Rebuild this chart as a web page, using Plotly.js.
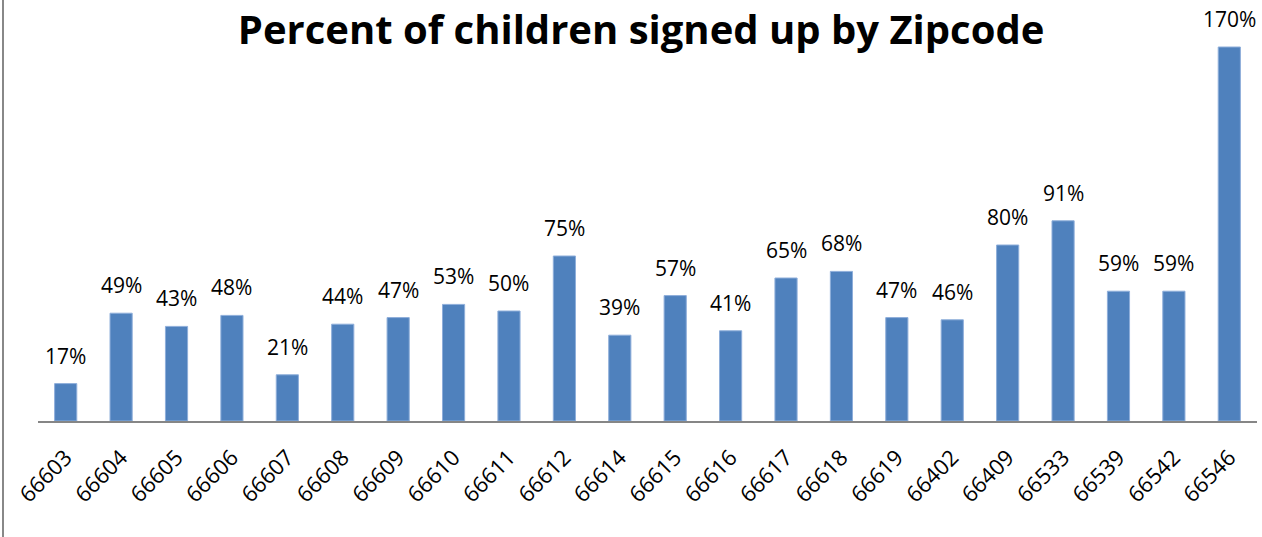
<!DOCTYPE html>
<html><head><meta charset="utf-8">
<script src="https://cdn.plot.ly/plotly-3.0.1.min.js"></script>
<style>body{margin:0;background:#fff}#wrap{position:relative;width:1262px;height:537px}#chart{width:1262px;height:537px}#edge{position:absolute;left:2px;top:0;width:2px;height:537px;background:#888}</style>
</head><body><div id="wrap"><div id="chart"></div><div id="edge"></div></div>
<script>
const zipcodes = ["66603","66604","66605","66606","66607","66608","66609","66610","66611","66612","66614","66615","66616","66617","66618","66619","66402","66409","66533","66539","66542","66546"];
const percents = [0.17,0.49,0.43,0.48,0.21,0.44,0.47,0.53,0.50,0.75,0.39,0.57,0.41,0.65,0.68,0.47,0.46,0.80,0.91,0.59,0.59,1.70];
const font = "Open Sans, Liberation Sans, sans-serif";
const labels = zipcodes.map((z, i) => ({
  x: i, y: percents[i], xref: 'x', yref: 'y',
  text: Math.round(percents[i] * 100) + '%',
  showarrow: false, yanchor: 'bottom', yshift: 12,
  font: {family: font, size: 21, color: '#000'}
}));
Plotly.newPlot('chart', [{
  type: 'bar', x: zipcodes, y: percents,
  marker: {color: '#4F81BD', line: {color: '#8EAEDA', width: 1}},
  hoverinfo: 'none'
}], {
  width: 1262, height: 537,
  margin: {l: 38, r: 5, t: 25, b: 116},
  bargap: 0.6,
  annotations: labels,
  title: {text: '<b>Percent of children signed up by Zipcode</b>', x: 0.508, xanchor: 'center', y: 0.945, yanchor: 'middle', font: {family: font, size: 40, color: '#000'}},
  xaxis: {type: 'category', range: [-0.5, zipcodes.length - 0.5], autorange: false, tickangle: -45, tickfont: {family: font, size: 22, color: '#000'}, ticklabelstandoff: 13, showline: true, linecolor: '#868686', linewidth: 2, ticks: '', showgrid: false},
  yaxis: {range: [0, 1.8], visible: false, showgrid: false, zeroline: false},
  showlegend: false, plot_bgcolor: '#fff', paper_bgcolor: '#fff'
}, {staticPlot: true});
</script></body></html>
